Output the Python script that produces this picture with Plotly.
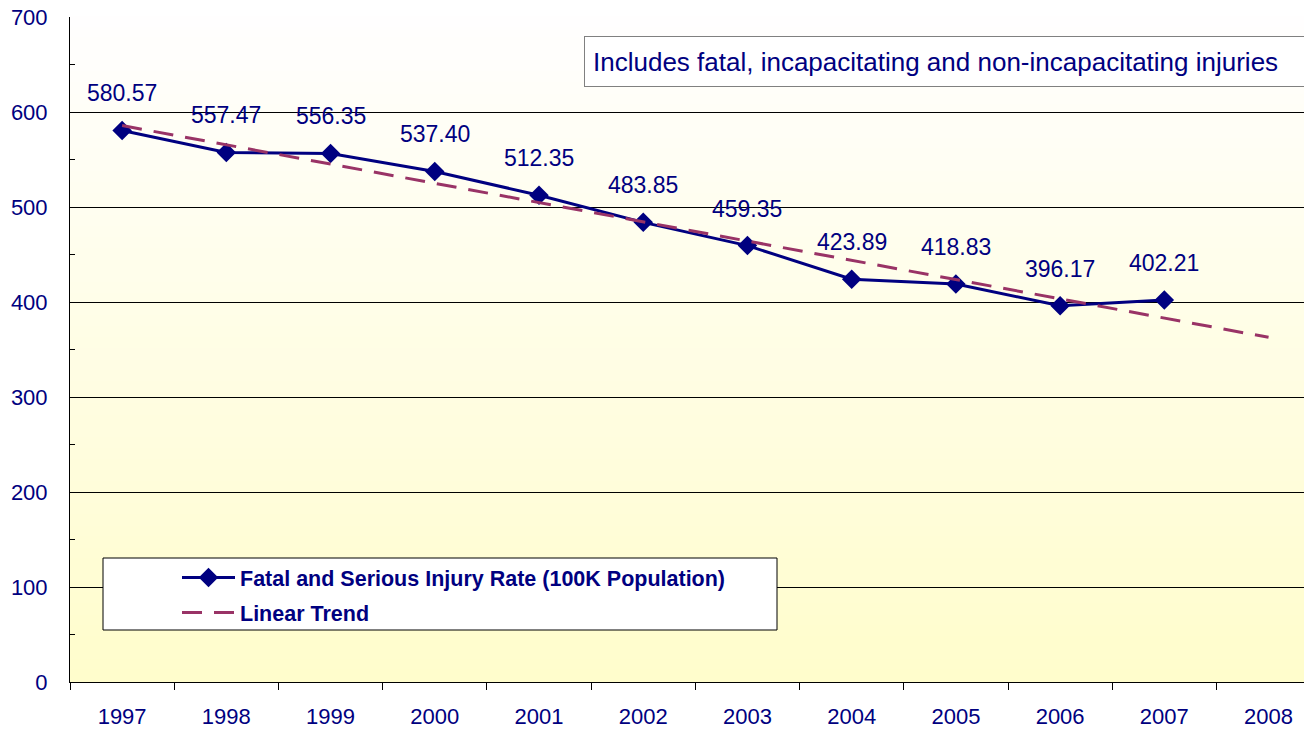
import numpy as np
import plotly.graph_objects as go

# ---- data ----
years = ["1997", "1998", "1999", "2000", "2001", "2002", "2003", "2004", "2005", "2006", "2007", "2008"]
rate = [580.57, 557.47, 556.35, 537.40, 512.35, 483.85, 459.35, 423.89, 418.83, 396.17, 402.21]
series_name = "Fatal and Serious Injury Rate (100K Population)"
trend_name = "Linear Trend"
note_text = "Includes fatal, incapacitating and non-incapacitating injuries"
y_ticks = [0, 100, 200, 300, 400, 500, 600, 700]

# linear trend (least squares on data, forecast one period)
idx = np.arange(len(rate))
slope, intercept = np.polyfit(idx, rate, 1)
trend = [intercept + slope * i for i in range(len(years))]

NAVY = "#000080"
TREND = "#993366"
FONT = "Liberation Sans, Arial, sans-serif"

W, H = 1304, 729
ml, mr, mt, mb = 70, 0, 17, 47
pw, ph = W - ml - mr, H - mt - mb


def px_x(p):
    return (p - ml) / pw


def px_y(p):
    return (H - mb - p) / ph


fig = go.Figure()
fig.add_trace(go.Scatter(
    x=years[:len(rate)], y=rate, mode="lines+markers", name=series_name,
    line=dict(color=NAVY, width=3),
    marker=dict(symbol="diamond", size=15, color=NAVY),
    legendgroup="a",
))
fig.add_trace(go.Scatter(
    x=years, y=trend, mode="lines", name=trend_name,
    line=dict(color=TREND, width=3, dash="20px,12px"),
    legendgroup="b",
))

# data labels (category index positions)
for i, v in enumerate(rate):
    fig.add_annotation(x=i, y=v, xref="x", yref="y", text=f"{v:.2f}", showarrow=False,
                       yshift=37, font=dict(family=FONT, size=23, color=NAVY))

# note box
fig.add_annotation(xref="paper", yref="paper", x=px_x(584), y=px_y(36),
                   xanchor="left", yanchor="top", showarrow=False, text=note_text,
                   font=dict(family=FONT, size=26, color=NAVY),
                   bgcolor="white", bordercolor="#808080", borderwidth=1, borderpad=8,
                   width=712, height=33, align="left")

# gradient background (white at top -> light yellow at bottom)
n = 60
top = np.array([255, 255, 255])
bot = np.array([255, 253, 204])
shapes = []
for i in range(n):
    t = (i + 0.5) / n
    c = top + (bot - top) * t
    shapes.append(dict(type="rect", xref="x domain", yref="y domain",
                       x0=0, x1=1, y0=1 - (i + 1) / n, y1=1 - i / n + 0.002,
                       fillcolor=f"rgb({int(c[0])},{int(c[1])},{int(c[2])})",
                       line=dict(width=0), layer="below"))
# legend frame
shapes.append(dict(type="rect", xref="paper", yref="paper",
                   x0=px_x(103), x1=px_x(777), y0=px_y(630), y1=px_y(558),
                   fillcolor="white", line=dict(color="black", width=1), layer="above"))

fig.update_layout(
    width=W, height=H,
    margin=dict(l=ml, r=mr, t=mt, b=mb),
    paper_bgcolor="white", plot_bgcolor="white",
    shapes=shapes,
    font=dict(family=FONT, color=NAVY),
    showlegend=True,
    legend=dict(x=px_x(177), y=px_y(557), xanchor="left", yanchor="top",
                bgcolor="rgba(0,0,0,0)", borderwidth=0, itemwidth=53,
                font=dict(family=FONT, size=21.5, color=NAVY, weight="bold"),
                tracegroupgap=4),
    xaxis=dict(type="category", categoryorder="array", categoryarray=years,
               range=[-0.5, 11.34], tickson="boundaries", ticks="outside", ticklen=7,
               tickcolor="black", showline=True, linecolor="black", linewidth=1,
               showgrid=False, tickfont=dict(family=FONT, size=22, color=NAVY),
               ticklabelstandoff=15),
    yaxis=dict(range=[0, 700], tickvals=y_ticks, ticks="inside", ticklen=5, tickcolor="black",
               showline=True, linecolor="black", linewidth=1,
               showgrid=True, gridcolor="black", gridwidth=1, zeroline=False,
               minor=dict(dtick=50, ticks="inside", ticklen=5, tickcolor="black", showgrid=False),
               tickfont=dict(family=FONT, size=22, color=NAVY), ticklabelstandoff=17),
)

fig.write_html("out.html", config={"displayModeBar": False},
               post_script="document.body.style.margin='0';")
